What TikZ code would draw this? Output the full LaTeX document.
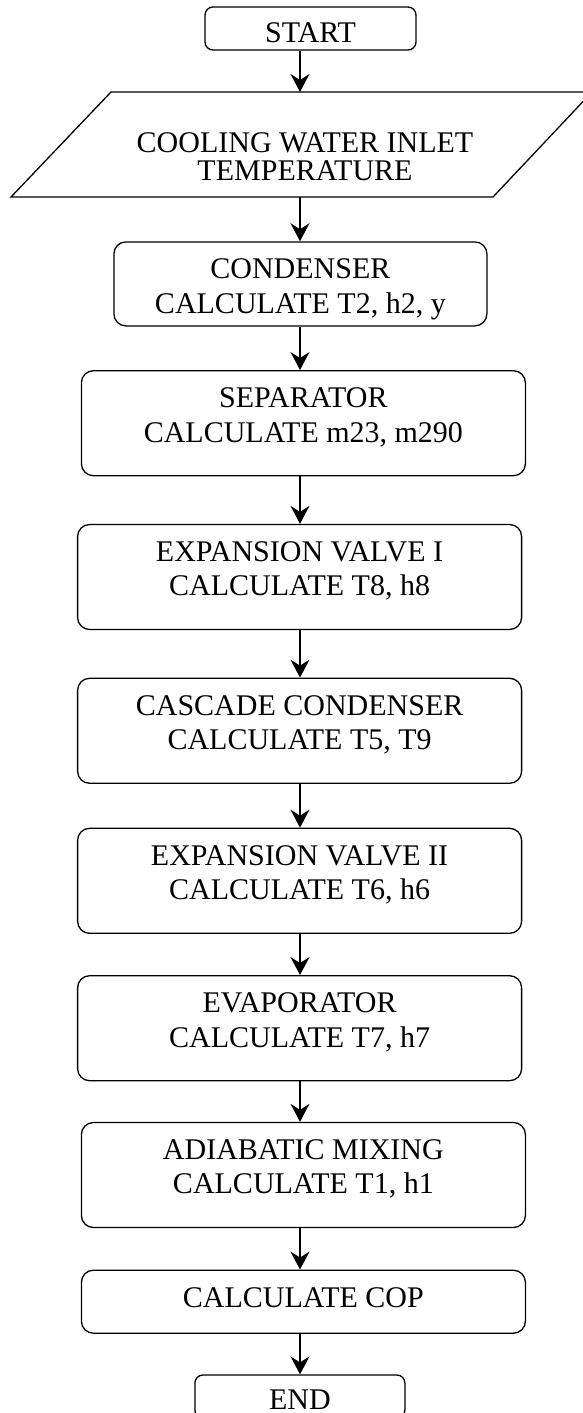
\documentclass[tikz,border=0pt]{standalone}
\usepackage{fontspec}
\setmainfont{Liberation Serif}
\usetikzlibrary{arrows.meta,positioning}
\begin{document}
\begin{tikzpicture}[x=1pt,y=-1pt,line width=1.3pt,
  etape/.style={draw,rounded corners=12pt,minimum width=444pt,minimum height=105pt,inner sep=0pt},
  borne/.style={draw,rounded corners=8pt,minimum width=211pt,minimum height=43pt,inner sep=0pt},
  texte/.style={anchor=north,inner sep=0pt,align=center,font=\fontsize{30}{34.5}\selectfont},
  fleche/.style={-{Stealth[length=18pt,width=19pt,inset=6pt]}}]
\useasboundingbox (0,0) rectangle (583,1413);
\coordinate (axe) at (300,0);
% Debut
\node[borne] (debut) at (310.5,28.5) {};
\node[texte] (debut-t) at ([yshift=-16pt]debut.north) {START};
% Donnee d'entree
\draw (11,197) -- (111,92) -- (592,92) -- (493,197) -- cycle;
\coordinate (entree-haut) at (300,92);
\coordinate (entree-bas) at (300,197);
\node[texte,font=\fontsize{30}{28.5}\selectfont] (entree) at (305,131.7) {COOLING WATER INLET\\TEMPERATURE};
% Etapes de calcul
\node[etape,minimum width=373pt,minimum height=84pt] (condenseur) at (300.4,283.9) {};
\node[texte] (condenseur-t) at ([yshift=-17pt]condenseur.north) {CONDENSER\\CALCULATE T2, h2, y};
\node[etape] (separateur) at (303.4,423.2) {};
\node[texte] (separateur-t) at ([yshift=-17pt]separateur.north) {SEPARATOR\\CALCULATE m23, m290};
\node[etape] (detente1) at (299.6,577) {};
\node[texte] (detente1-t) at ([yshift=-17pt]detente1.north) {EXPANSION VALVE I\\CALCULATE T8, h8};
\node[etape] (cascade) at (299.6,730.8) {};
\node[texte] (cascade-t) at ([yshift=-17pt]cascade.north) {CASCADE CONDENSER\\CALCULATE T5, T9};
\node[etape] (detente2) at (299.6,880.8) {};
\node[texte] (detente2-t) at ([yshift=-17pt]detente2.north) {EXPANSION VALVE II\\CALCULATE T6, h6};
\node[etape] (evaporateur) at (299.6,1028.2) {};
\node[texte] (evaporateur-t) at ([yshift=-17pt]evaporateur.north) {EVAPORATOR\\CALCULATE T7, h7};
\node[etape] (melange) at (303.4,1175) {};
\node[texte] (melange-t) at ([yshift=-17pt]melange.north) {ADIABATIC MIXING\\CALCULATE T1, h1};
\node[etape,minimum height=63pt] (cop) at (303.4,1301.7) {};
\node[texte] (cop-t) at ([yshift=-17pt]cop.north) {CALCULATE COP};
% Fin
\node[borne,minimum width=210pt] (fin) at (299.9,1396.5) {};
\node[texte] (fin-t) at ([yshift=-14.5pt]fin.north) {END};
% Fleches
\draw[fleche] (debut.south -| axe) -- (entree-haut);
\draw[fleche] (entree-bas) -- (condenseur.north -| axe);
\draw[fleche] (condenseur.south -| axe) -- (separateur.north -| axe);
\draw[fleche] (separateur.south -| axe) -- (detente1.north -| axe);
\draw[fleche] (detente1.south -| axe) -- (cascade.north -| axe);
\draw[fleche] (cascade.south -| axe) -- (detente2.north -| axe);
\draw[fleche] (detente2.south -| axe) -- (evaporateur.north -| axe);
\draw[fleche] (evaporateur.south -| axe) -- (melange.north -| axe);
\draw[fleche] (melange.south -| axe) -- (cop.north -| axe);
\draw[fleche] (cop.south -| axe) -- (fin.north -| axe);
\end{tikzpicture}
\end{document}
